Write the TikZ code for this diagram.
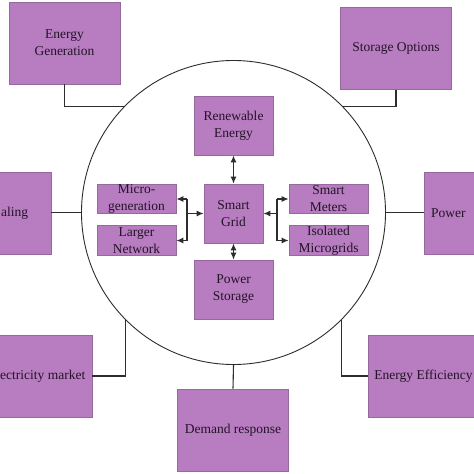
\documentclass[tikz,border=0pt]{standalone}
\usepackage{fontspec}
\setmainfont{Liberation Serif}
\usetikzlibrary{arrows.meta,calc}
\definecolor{boxfill}{RGB}{184,124,192}
\definecolor{boxline}{RGB}{150,105,158}
\definecolor{txt}{RGB}{35,20,40}
\definecolor{wire}{RGB}{45,45,45}
\tikzset{
  pbox/.style={draw=boxline, line width=0.8pt, fill=boxfill, text=txt, align=center, inner sep=0pt,
    font=\fontsize{13.5}{17}\selectfont},
  outer/.style={pbox, minimum width=111pt, minimum height=82pt},
  inner/.style={pbox, minimum width=79pt, minimum height=29.5pt},
  lbl/.style={text=txt, inner sep=0pt, font=\fontsize{13.5}{17}\selectfont},
  wireline/.style={draw=wire, line width=1.1pt},
  dbl/.style={wireline, {Latex[length=7pt,width=6pt]}-{Latex[length=7pt,width=6pt]}},
  one/.style={wireline, -{Latex[length=7pt,width=6pt]}}
}
\begin{document}
\begin{tikzpicture}[x=1pt,y=-1pt]
\useasboundingbox (0,0) rectangle (474,474);
\clip (0,0) rectangle (474,474);
\fill[white] (0,0) rectangle (474,474);
% big circle
\node[draw=wire, line width=0.9pt, circle, minimum size=304pt, inner sep=0pt] (circ) at (233.5,212.5) {};
% outer boxes
\node[outer] (eg) at (64.5,43) {Energy\\Generation};
\node[outer] (so) at (396,48.5) {Storage Options};
\node[outer] (sh) at (-4.5,213) {};
\node[lbl, anchor=west] (shtxt) at (1,213) {aling};
\node[outer] (pw) at (479.5,213.5) {};
\node[lbl, anchor=west] (pwtxt) at (431,213) {Power};
\node[outer] (em) at (36.5,376) {};
\node[lbl, anchor=east] (emtxt) at (85.5,376) {ectricity market};
\node[outer] (ee) at (423.5,376) {Energy Efficiency};
\node[outer] (dr) at (233,430) {Demand response};
% inner boxes
\node[pbox, minimum width=79pt, minimum height=59pt] (re) at (233.5,125.5) {Renewable\\Energy};
\node[pbox, minimum width=59pt, minimum height=59pt] (sg) at (233.5,213.5) {Smart\\Grid};
\node[pbox, minimum width=79pt, minimum height=59pt] (ps) at (233.5,289.5) {Power\\Storage};
\node[inner] (mg) at (136.5,199) {Micro-\\generation};
\node[inner] (ln) at (136.5,240.5) {Larger\\Network};
\node[inner] (sm) at (328.5,199) {Smart\\Meters};
\node[inner] (im) at (328.5,240.5) {Isolated\\Microgrids};
% connectors to circle
\draw[wireline] (eg.south) |- (circ.136);
\draw[wireline] (so.south) |- (circ.44);
\draw[wireline] (circ.180) -- (sh.east |- circ.180);
\draw[wireline] (circ.0) -- (pw.west |- circ.0);
\draw[wireline] (em.east) -| (circ.225);
\draw[wireline] (ee.west) -| (circ.315);
\draw[wireline] (circ.270) -- (dr.north);
% inner arrows
\draw[dbl] (re.south) -- (sg.north);
\draw[dbl] (sg.south) -- (ps.north);
\coordinate (lt) at (187,199);
\coordinate (lb) at (187,240.5);
\coordinate (lm) at (187,213.5);
\draw[wireline] (lt) -- (lb);
\draw[one] (lt) -- (mg.east);
\draw[one] (lb) -- (ln.east);
\draw[one] (lm) -- (sg.west);
\coordinate (rt) at (277,199);
\coordinate (rb) at (277,240.5);
\coordinate (rm) at (277,213.5);
\draw[wireline] (rt) -- (rb);
\draw[one] (rt) -- (sm.west);
\draw[one] (rb) -- (im.west);
\draw[one] (rm) -- (sg.east);
\end{tikzpicture}
\end{document}
